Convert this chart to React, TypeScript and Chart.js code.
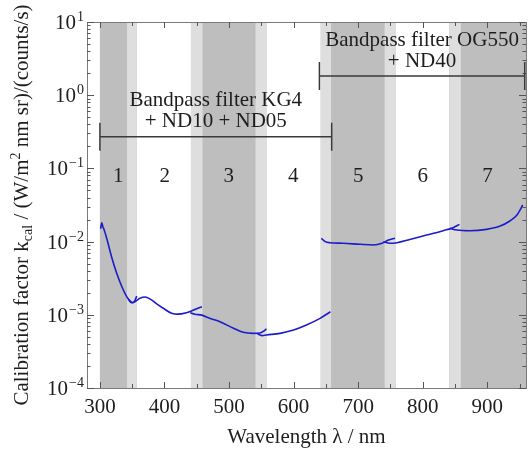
import React, { useEffect, useRef } from "react";
import { Chart, registerables } from "chart.js";

Chart.register(...registerables);

// ---------- data ----------
const xMin = 280;
const xMax = 960;
const yMin = 1e-4;
const yMax = 10;

const xTickValues = [300, 400, 500, 600, 700, 800, 900];
const xMinorTickValues = [350, 450, 550, 650, 750, 850, 950];
const yTickExponents = [1, 0, -1, -2, -3, -4];

const bandStart = [300, 342, 441, 541, 642, 741, 841];
const bandEnd = [357, 459, 558, 658, 758, 859, 960];
const bandLabels = ["1", "2", "3", "4", "5", "6", "7"];
const bandLabelLevel = 0.077;

const kg4Lines = ["Bandpass filter KG4", "+ ND10 + ND05"];
const kg4Range = [300, 659];
const kg4Level = 0.27;

const og550Lines = ["Bandpass filter OG550", "+ ND40"];
const og550Range = [640, 958];
const og550Level = 1.83;

const seg1Wl = [301, 303, 304.5, 306, 310.5, 318, 326, 334, 341.5, 346.5, 351, 354, 357];
const seg1Val = [0.0150, 0.0180, 0.0160, 0.0150, 0.0111, 0.00622, 0.00369, 0.00242, 0.00177, 0.00155, 0.00146, 0.00155, 0.00180];

const seg2Wl = [344, 349, 354, 362, 370, 378, 388, 398, 411, 421, 434, 445, 452, 458];
const seg2Val = [0.00163, 0.00146, 0.00151, 0.00168, 0.00175, 0.00164, 0.00141, 0.00123, 0.00105, 0.00102, 0.00107, 0.00116, 0.00123, 0.00129];

const seg3Wl = [440, 447, 458, 470, 486, 507, 522, 538, 548, 554, 558];
const seg3Val = [0.00107, 0.00102, 0.00099, 0.000895, 0.000805, 0.000654, 0.000577, 0.000558, 0.000563, 0.000600, 0.000640];

const seg4Wl = [543, 551, 558, 579, 600, 620, 641, 657];
const seg4Val = [0.000558, 0.000519, 0.000530, 0.000558, 0.000620, 0.000726, 0.000895, 0.00110];

const seg5Wl = [643, 649, 656, 677, 703, 724, 737, 747, 757];
const seg5Val = [0.0111, 0.00998, 0.00966, 0.00950, 0.00918, 0.00900, 0.00950, 0.0105, 0.0111];

const seg6Wl = [739, 749, 760, 780, 806, 832, 847, 857];
const seg6Val = [0.00998, 0.00950, 0.00966, 0.0107, 0.0123, 0.0141, 0.0155, 0.0172];

const seg7Wl = [842, 853, 873, 899, 920, 935, 946, 955];
const seg7Val = [0.0152, 0.0144, 0.0141, 0.0147, 0.0163, 0.0191, 0.0231, 0.0316];

const segments = [
  [seg1Wl, seg1Val],
  [seg2Wl, seg2Val],
  [seg3Wl, seg3Val],
  [seg4Wl, seg4Val],
  [seg5Wl, seg5Val],
  [seg6Wl, seg6Val],
  [seg7Wl, seg7Val],
];

// ---------- styles ----------
const FONT = "'Liberation Serif', 'Times New Roman', serif";
const TEXT = "#1e1e1e";
const DARK_BAND = "#bebebe";
const LIGHT_BAND = "#dedede";
const CURVE = "#1c1cc8";
const FRAME = "#7a7a7a";
const SUPERSCRIPT_DIGITS: Record<string, string> = {};

const supText = (e: number) => (e < 0 ? "\u2212" + Math.abs(e) : String(e));

const decorPlugin = {
  id: "decor",
  beforeDatasetsDraw(chart: any) {
    const { ctx, chartArea: a, scales } = chart;
    const xs = scales.x;
    ctx.save();
    ctx.beginPath();
    ctx.rect(a.left, a.top, a.right - a.left, a.bottom - a.top);
    ctx.clip();
    // dark bands (odd-numbered)
    for (let i = 0; i < bandStart.length; i += 2) {
      const x0 = xs.getPixelForValue(bandStart[i]);
      const x1 = xs.getPixelForValue(bandEnd[i]);
      ctx.fillStyle = DARK_BAND;
      ctx.fillRect(x0, a.top, x1 - x0, a.bottom - a.top);
    }
    // overlaps
    for (let i = 0; i < bandStart.length - 1; i++) {
      const x0 = xs.getPixelForValue(bandStart[i + 1]);
      const x1 = xs.getPixelForValue(bandEnd[i]);
      ctx.fillStyle = LIGHT_BAND;
      ctx.fillRect(x0, a.top, x1 - x0, a.bottom - a.top);
    }
    ctx.restore();
  },
  afterDatasetsDraw(chart: any) {
    const { ctx, chartArea: a, scales } = chart;
    const xs = scales.x;
    const ys = scales.y;
    ctx.save();

    // frame
    ctx.strokeStyle = FRAME;
    ctx.lineWidth = 1;
    ctx.strokeRect(Math.round(a.left) + 0.5, Math.round(a.top) + 0.5, Math.round(a.right - a.left), Math.round(a.bottom - a.top));

    // ticks
    ctx.strokeStyle = "#555";
    ctx.beginPath();
    const vtick = (v: number, len: number) => {
      const x = Math.round(xs.getPixelForValue(v)) + 0.5;
      ctx.moveTo(x, a.bottom);
      ctx.lineTo(x, a.bottom - len);
      ctx.moveTo(x, a.top);
      ctx.lineTo(x, a.top + len);
    };
    xTickValues.forEach((v) => vtick(v, 6));
    xMinorTickValues.forEach((v) => vtick(v, 4));
    const htick = (v: number, len: number) => {
      const y = Math.round(ys.getPixelForValue(v)) + 0.5;
      ctx.moveTo(a.left, y);
      ctx.lineTo(a.left + len, y);
      ctx.moveTo(a.right, y);
      ctx.lineTo(a.right - len, y);
    };
    yTickExponents.forEach((e) => {
      htick(Math.pow(10, e), 7);
      if (e > -4) {
        for (let m = 2; m <= 9; m++) htick(m * Math.pow(10, e - 1), 3.5);
      }
    });
    ctx.stroke();

    ctx.fillStyle = TEXT;

    // x tick labels
    ctx.font = `21px ${FONT}`;
    ctx.textAlign = "center";
    ctx.textBaseline = "middle";
    xTickValues.forEach((v) => {
      ctx.fillText(String(v), xs.getPixelForValue(v), a.bottom + 19);
    });

    // y tick labels (10^n)
    yTickExponents.forEach((e) => {
      const y = ys.getPixelForValue(Math.pow(10, e));
      const sup = supText(e);
      ctx.font = `14px ${FONT}`;
      const sw = ctx.measureText(sup).width;
      ctx.textAlign = "right";
      ctx.textBaseline = "alphabetic";
      const right = a.left - 3;
      ctx.fillText(sup, right, y - 1);
      ctx.font = `21px ${FONT}`;
      ctx.fillText("10", right - sw - 1, y + 7);
    });

    // x title
    ctx.font = `21px ${FONT}`;
    ctx.textAlign = "center";
    ctx.textBaseline = "middle";
    ctx.fillText("Wavelength \u03bb / nm", (a.left + a.right) / 2, 437);

    // y title (rotated, rich text)
    const pieces: [string, string][] = [
      ["Calibration factor k", "n"],
      ["cal", "sub"],
      [" / (W/m", "n"],
      ["2", "sup"],
      [" nm sr)/(counts/s)", "n"],
    ];
    const fontFor = (k: string) => (k === "n" ? `21px ${FONT}` : `14px ${FONT}`);
    let total = 0;
    pieces.forEach(([t, k]) => {
      ctx.font = fontFor(k);
      total += ctx.measureText(t).width;
    });
    ctx.save();
    ctx.translate(21, 205);
    ctx.rotate(-Math.PI / 2);
    ctx.textAlign = "left";
    ctx.textBaseline = "alphabetic";
    let cx = -total / 2;
    pieces.forEach(([t, k]) => {
      ctx.font = fontFor(k);
      const dy = k === "sub" ? 11 : k === "sup" ? -1 : 7;
      ctx.fillText(t, cx, dy);
      cx += ctx.measureText(t).width;
    });
    ctx.restore();

    // band numbers
    ctx.font = `21px ${FONT}`;
    ctx.textAlign = "center";
    ctx.textBaseline = "middle";
    const ly = ys.getPixelForValue(bandLabelLevel);
    bandLabels.forEach((lab, i) => {
      ctx.fillText(lab, xs.getPixelForValue((bandStart[i] + bandEnd[i]) / 2), ly);
    });

    // brackets + filter labels
    const bracket = (range: number[], level: number, lines: string[]) => {
      const x0 = xs.getPixelForValue(range[0]);
      const x1 = xs.getPixelForValue(range[1]);
      const y = ys.getPixelForValue(level);
      ctx.strokeStyle = "#3a3a3a";
      ctx.lineWidth = 1.5;
      ctx.beginPath();
      ctx.moveTo(x0, y);
      ctx.lineTo(x1, y);
      ctx.moveTo(x0, y - 14);
      ctx.lineTo(x0, y + 14);
      ctx.moveTo(x1, y - 14);
      ctx.lineTo(x1, y + 14);
      ctx.stroke();
      ctx.fillStyle = TEXT;
      ctx.font = `21px ${FONT}`;
      ctx.textAlign = "center";
      ctx.textBaseline = "middle";
      const cxm = (x0 + x1) / 2;
      ctx.fillText(lines[0], cxm, y - 36);
      ctx.fillText(lines[1], cxm, y - 15);
    };
    bracket(kg4Range, kg4Level, kg4Lines);
    bracket(og550Range, og550Level, og550Lines);

    ctx.restore();
  },
};

export default function App() {
  const canvasRef = useRef<HTMLCanvasElement | null>(null);

  useEffect(() => {
    const canvas = canvasRef.current;
    if (!canvas) return;
    const datasets = segments.map(([wl, val]) => ({
      data: wl.map((w, i) => ({ x: w, y: val[i] })),
      borderColor: CURVE,
      backgroundColor: CURVE,
      borderWidth: 1.6,
      pointRadius: 0,
      showLine: true,
      tension: 0.3,
      cubicInterpolationMode: "monotone" as const,
      fill: false,
    }));
    const chart = new Chart(canvas, {
      type: "line",
      data: { datasets },
      options: {
        animation: false,
        responsive: false,
        maintainAspectRatio: false,
        layout: { padding: { left: 0, top: 22, right: 3, bottom: 0 } },
        plugins: { legend: { display: false }, tooltip: { enabled: false } },
        scales: {
          x: {
            type: "linear",
            min: xMin,
            max: xMax,
            grid: { display: false },
            border: { display: false },
            ticks: { display: false },
            afterFit: (s: any) => {
              s.height = 65;
            },
          },
          y: {
            type: "logarithmic",
            min: yMin,
            max: yMax,
            grid: { display: false },
            border: { display: false },
            ticks: { display: false },
            afterFit: (s: any) => {
              s.width = 87;
            },
          },
        },
      },
      plugins: [decorPlugin],
    });
    return () => chart.destroy();
  }, []);

  return (
    <div style={{ position: "absolute", left: 0, top: 0, width: 529, height: 453, background: "#fff" }}>
      <canvas ref={canvasRef} width={529} height={453} style={{ width: 529, height: 453, display: "block" }} />
    </div>
  );
}
